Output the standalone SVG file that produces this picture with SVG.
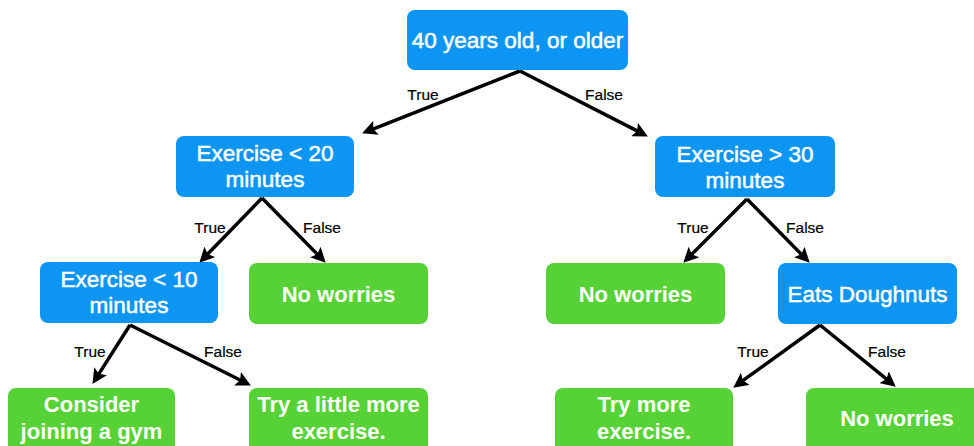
<svg xmlns="http://www.w3.org/2000/svg" width="974" height="446" viewBox="0 0 974 446">
  <defs>
    <marker id="head" markerUnits="userSpaceOnUse" markerWidth="15" markerHeight="15" refX="4" refY="7.5" orient="auto">
      <path d="M0,0 L15,7.5 L0,15 L3,7.5 z" fill="#000"/>
    </marker>
    <style>
      .q rect { fill: #0C95F3; }
      .a rect { fill: #56D236; }
      .q text { fill: #fff; stroke: #fff; stroke-width: 0.5; font-family: "Liberation Sans", Arial, sans-serif; font-size: 22.5px; text-anchor: middle; }
      .a text { fill: #fff; font-family: "Liberation Sans", Arial, sans-serif; font-size: 22px; font-weight: bold; text-anchor: middle; }
      .edges line { stroke: #000; stroke-width: 3.5; marker-end: url(#head); }
      .edges text { fill: #000; stroke: #000; stroke-width: 0.2; font-family: "Liberation Sans", Arial, sans-serif; font-size: 15.5px; text-anchor: middle; }
    </style>
  </defs>
  <rect width="974" height="446" fill="#fff"/>

  <!-- connectors -->
  <g id="connectors" class="edges">
    <line x1="520" y1="71" x2="372.3" y2="129.3"/>
    <line x1="520" y1="71" x2="638.1" y2="131.4"/>
    <line x1="262" y1="198" x2="207" y2="254.8"/>
    <line x1="262" y1="198" x2="318" y2="254.9"/>
    <line x1="130" y1="325" x2="98.4" y2="374.6"/>
    <line x1="130" y1="325" x2="241.1" y2="380.5"/>
    <line x1="747" y1="199" x2="691.1" y2="254.9"/>
    <line x1="747" y1="199" x2="802" y2="254.9"/>
    <line x1="820" y1="325" x2="742.1" y2="381.2"/>
    <line x1="820" y1="325" x2="887.2" y2="379.7"/>
    <text x="423" y="99.5">True</text>
    <text x="604" y="99.5">False</text>
    <text x="210" y="232.5">True</text>
    <text x="322" y="232.5">False</text>
    <text x="90" y="356.5">True</text>
    <text x="223" y="356.5">False</text>
    <text x="693" y="232.5">True</text>
    <text x="805" y="232.5">False</text>
    <text x="753" y="356.5">True</text>
    <text x="887" y="356.5">False</text>
  </g>

  <!-- decision nodes -->
  <g id="age" class="q">
    <rect x="407" y="10" width="221" height="60" rx="8"/>
    <text x="517.5" y="47.5">40 years old, or older</text>
  </g>
  <g id="exercise-lt-20" class="q">
    <rect x="176" y="136" width="178" height="61" rx="8"/>
    <text x="265" y="161">Exercise &lt; 20</text>
    <text x="265" y="187">minutes</text>
  </g>
  <g id="exercise-gt-30" class="q">
    <rect x="655" y="136" width="180" height="61" rx="8"/>
    <text x="745" y="161.5">Exercise &gt; 30</text>
    <text x="745" y="187.5">minutes</text>
  </g>
  <g id="exercise-lt-10" class="q">
    <rect x="40" y="262" width="178" height="61" rx="8"/>
    <text x="129" y="286.5">Exercise &lt; 10</text>
    <text x="129" y="313">minutes</text>
  </g>
  <g id="doughnuts" class="q">
    <rect x="778" y="263" width="179" height="61" rx="8"/>
    <text x="867.5" y="301.5">Eats Doughnuts</text>
  </g>

  <!-- outcome nodes -->
  <g id="no-worries-1" class="a">
    <rect x="249" y="263" width="179" height="61" rx="8"/>
    <text x="338.5" y="301.5">No worries</text>
  </g>
  <g id="no-worries-2" class="a">
    <rect x="546" y="263" width="179" height="61" rx="8"/>
    <text x="635.5" y="301.5">No worries</text>
  </g>
  <g id="gym" class="a">
    <rect x="8" y="388" width="167" height="70" rx="8"/>
    <text x="91.5" y="412">Consider</text>
    <text x="91.5" y="438.5">joining a gym</text>
  </g>
  <g id="little-more" class="a">
    <rect x="249" y="388" width="179" height="70" rx="8"/>
    <text x="338.5" y="412">Try a little more</text>
    <text x="338.5" y="438.5">exercise.</text>
  </g>
  <g id="more" class="a">
    <rect x="555" y="388" width="178" height="70" rx="8"/>
    <text x="644" y="412">Try more</text>
    <text x="644" y="438.5">exercise.</text>
  </g>
  <g id="no-worries-3" class="a">
    <rect x="806" y="388" width="182" height="70" rx="8"/>
    <text x="897" y="426">No worries</text>
  </g>
</svg>
